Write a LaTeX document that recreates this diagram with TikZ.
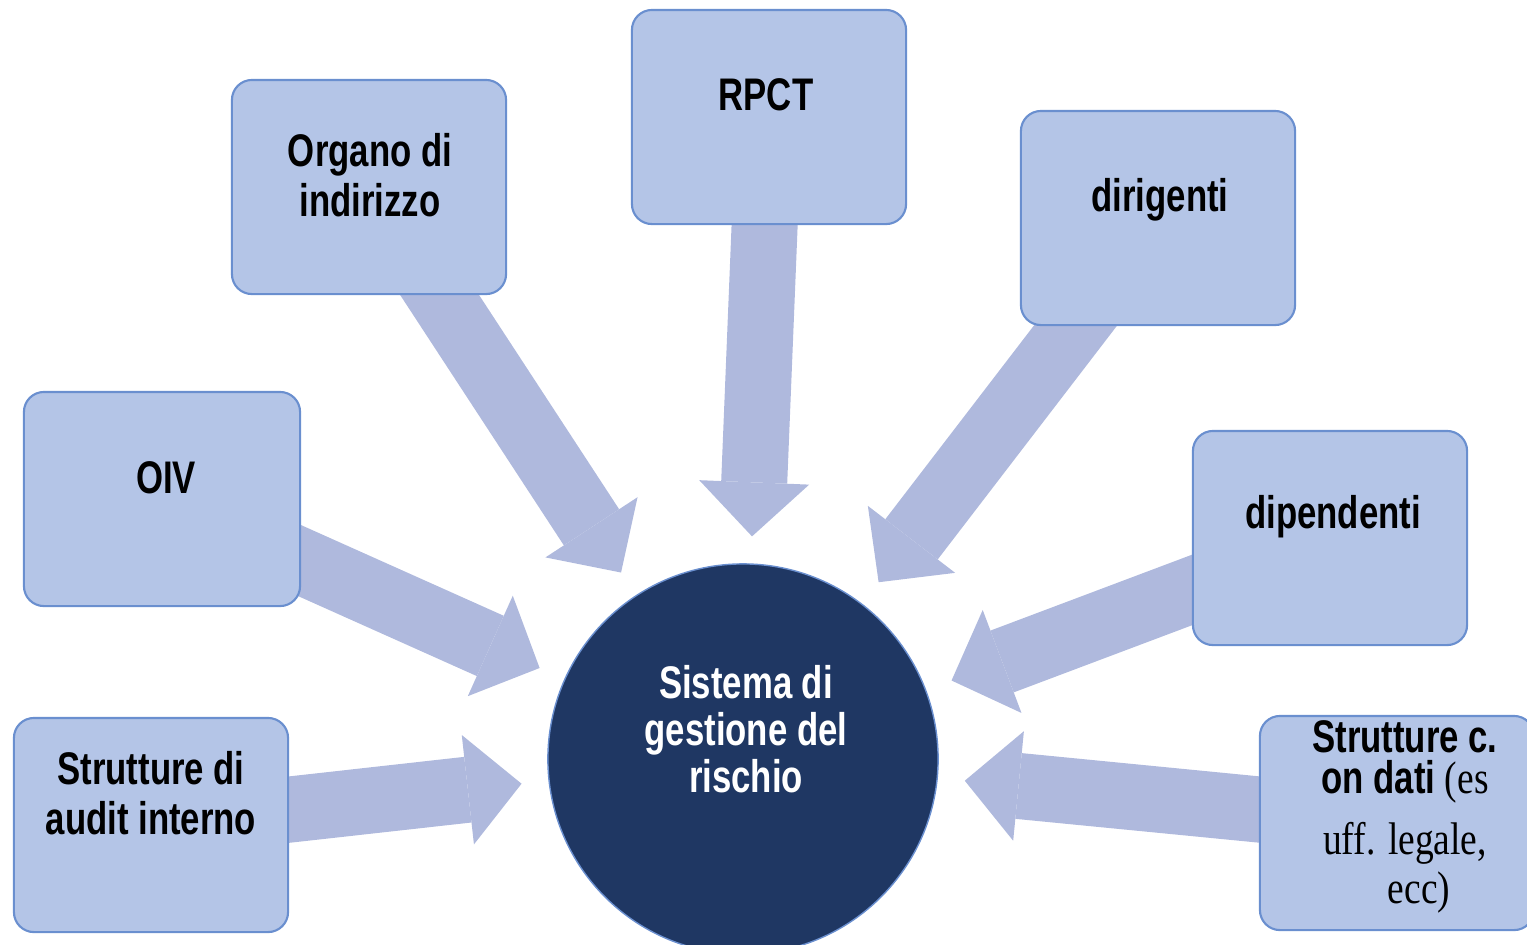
\documentclass[tikz,border=0pt]{standalone}
\usepackage{fontspec}
\setmainfont{Liberation Serif}
\newfontfamily\boxfont{Liberation Sans}[FakeStretch=0.76]
\newfontfamily\srf{Liberation Serif}[FakeStretch=0.82]
\usetikzlibrary{positioning, arrows.meta, backgrounds}
\definecolor{boxfill}{HTML}{B4C5E7}
\definecolor{boxline}{HTML}{6A8FCF}
\definecolor{arrowcol}{HTML}{AFB9DD}
\definecolor{circfill}{HTML}{1F3763}
\tikzset{
    actor/.style={draw=boxline, fill=boxfill, line width=0.6pt, rounded corners=0.2cm, minimum width=2.74cm, minimum height=2.14cm, inner sep=0pt},
    lbl/.style={font=\boxfont\bfseries\fontsize{13}{14.2}\selectfont, align=center, inner sep=0pt},
    fat/.style={draw=arrowcol, line width=0.66cm, shorten >=0.27cm, -{Triangle[length=0.54cm, width=1.1cm, line width=0pt]}}
}
\newcommand{\plain}[1]{{\srf\mdseries #1}}

\begin{document}
\begin{tikzpicture}[x=0.01cm, y=-0.01cm]
    \useasboundingbox (0,0) rectangle (1527,944);
    \clip (0,0) rectangle (1527,944);
    \node[circle, fill=circfill, draw=boxline, line width=0.4pt, minimum size=3.9cm] (S) at (743,759) {};
    \node[lbl, text=white, font=\boxfont\bfseries\fontsize{13}{13.4}\selectfont] (St) at (746,729) {Sistema di\\gestione del\\rischio};
    \node[actor] (org) at (369,187) {};
    \node[actor] (rpct) at (769,117) {};
    \node[actor] (dir) at (1158,218) {};
    \node[actor, minimum width=2.76cm] (oiv) at (162,499) {};
    \node[actor] (dip) at (1330,538) {};
    \node[actor] (aud) at (151,825) {};
    \node[actor] (str) at (1397,823) {};
    \node[lbl] (orgt) at (370,175) {Organo di\\indirizzo};
    \node[lbl] (rpctt) at (766,95) {RPCT};
    \node[lbl] (dirt) at (1160,200) {dirigenti};
    \node[lbl] (oivt) at (166,478) {OIV};
    \node[lbl] (dipt) at (1333,517) {dipendenti};
    \node[lbl] (audt) at (151,793) {Strutture di\\audit interno};
    \node[lbl, font=\boxfont\bfseries\fontsize{13}{11.6}\selectfont] (strt) at (1405,817)
        {Strutture c.\\on dati \plain{(es}\\[4.5pt]\plain{uff. legale,}\\[1.1pt]\hspace*{8pt}\plain{ecc)}};
    \begin{pgfonlayer}{background}
        \foreach \n in {org,rpct,dir,oiv,dip,aud,str}
            \draw[fat] (\n.center) -- (S);
    \end{pgfonlayer}
\end{tikzpicture}
\end{document}
